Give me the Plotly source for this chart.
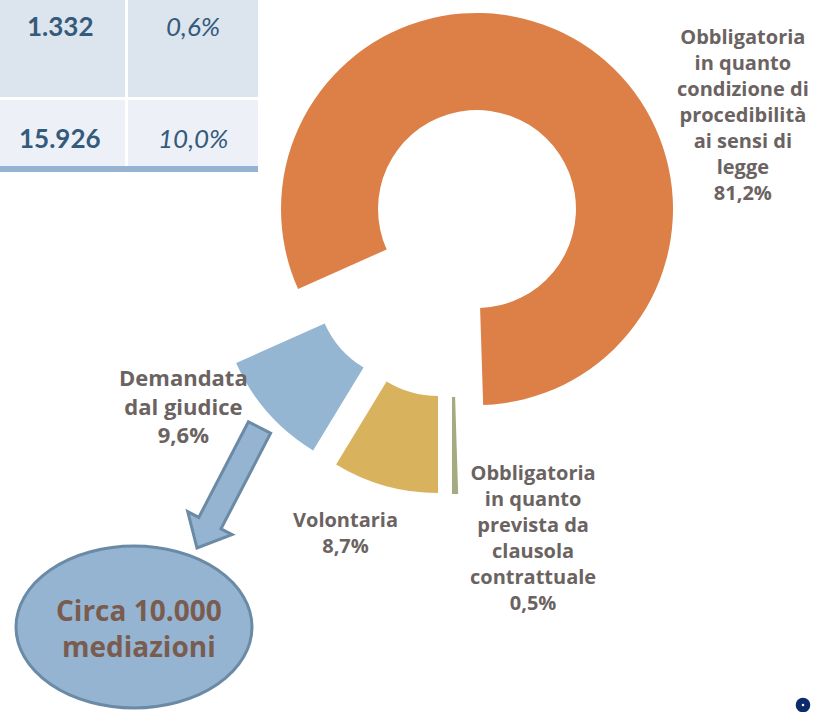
import math
import plotly.graph_objects as go

# ---------------- data ----------------
categories = [
    "Obbligatoria in quanto condizione di procedibilità ai sensi di legge",
    "Obbligatoria in quanto prevista da clausola contrattuale",
    "Volontaria",
    "Demandata dal giudice",
]
label_text = [
    "Obbligatoria<br>in quanto<br>condizione di<br>procedibilità<br>ai sensi di<br>legge",
    "Obbligatoria<br>in quanto<br>prevista da<br>clausola<br>contrattuale",
    "Volontaria",
    "Demandata<br>dal giudice",
]
shares = [81.2, 0.5, 8.7, 9.6]

table_counts = ["1.332", "15.926"]
table_shares = ["0,6%", "10,0%"]
callout_text = "Circa 10.000<br>mediazioni"

# ---------------- style / layout ----------------
W, H = 815, 712
colors = ["#DD8047", "#A5AB81", "#D8B25C", "#94B6D2"]
label_color = "#6B6361"
LABEL_FONT = "'Open Sans', Lato, sans-serif"
R = 196
HOLE = 0.505
# exploded position (pixel centre) of each slice
slice_centres = [(477, 209), (452, 298), (438, 297), (415, 283)]
label_pos = [(743, 114), (533, 537), (345, 532), (183, 405)]
label_size = [20, 20, 20, 22]


def px(x):
    return x / W


def py(y):
    return 1 - y / H


total = sum(shares)
# the "Volontaria" slice starts straight down (180 deg)
rotation = 180 - 360 * (shares[0] + shares[1]) / total

fig = go.Figure()
for i, (cx, cy) in enumerate(slice_centres):
    cols = [colors[j] if j == i else "rgba(0,0,0,0)" for j in range(len(shares))]
    fig.add_trace(go.Pie(
        labels=categories,
        values=shares,
        sort=False,
        direction="clockwise",
        rotation=rotation,
        hole=HOLE,
        marker=dict(colors=cols, line=dict(width=0)),
        textinfo="none",
        hovertemplate="%{label}: %{value:.1f}%<extra></extra>",
        showlegend=False,
        domain=dict(x=[px(cx - R), px(cx + R)], y=[py(cy + R), py(cy - R)]),
    ))

annotations = []
for i, (lx, ly) in enumerate(label_pos):
    txt = label_text[i] + "<br>" + f"{shares[i]:.1f}".replace(".", ",") + "%"
    annotations.append(dict(
        x=px(lx), y=py(ly), xref="paper", yref="paper",
        text=f"<b>{txt}</b>", showarrow=False,
        xanchor="center", yanchor="middle", align="center",
        font=dict(family=LABEL_FONT, size=label_size[i], color=label_color),
    ))

shapes = []
# partial table (top-left)
row_y = [(-5, 97), (100, 166)]
row_fill = ["#DCE4EE", "#EDF1F7"]
col_x = [(-5, 125), (128, 258)]
text_y = [26, 138]
for r, (y0, y1) in enumerate(row_y):
    for c, (x0, x1) in enumerate(col_x):
        shapes.append(dict(type="rect", xref="paper", yref="paper",
                           x0=px(x0), x1=px(x1), y0=py(y1), y1=py(y0),
                           fillcolor=row_fill[r], line=dict(width=0), layer="below"))
    annotations.append(dict(x=px(60), y=py(text_y[r]), xref="paper", yref="paper",
                            text=f"<b>{table_counts[r]}</b>", showarrow=False,
                            xanchor="center", yanchor="middle",
                            font=dict(family="Lato, sans-serif", size=26, color="#345A7C")))
    annotations.append(dict(x=px(193), y=py(text_y[r]), xref="paper", yref="paper",
                            text=f"<i>{table_shares[r]}</i>", showarrow=False,
                            xanchor="center", yanchor="middle",
                            font=dict(family="Lato, sans-serif", size=26, color="#345A7C")))
shapes.append(dict(type="rect", xref="paper", yref="paper",
                   x0=px(-5), x1=px(258), y0=py(172), y1=py(166),
                   fillcolor="#95B4D3", line=dict(width=0), layer="below"))

# block arrow from the "Demandata" slice to the callout
T = (259.5, 427.5)
P = (197.0, 548.0)
L = math.hypot(P[0] - T[0], P[1] - T[1])
u = ((P[0] - T[0]) / L, (P[1] - T[1]) / L)
n = (-u[1], u[0]) if (-u[1]) > 0 else (u[1], -u[0])
w, Wh, hl = 12.5, 25.0, 28.0
B = (P[0] - u[0] * hl, P[1] - u[1] * hl)
pts = [
    (T[0] - n[0] * w, T[1] - n[1] * w),
    (T[0] + n[0] * w, T[1] + n[1] * w),
    (B[0] + n[0] * w, B[1] + n[1] * w),
    (B[0] + n[0] * Wh, B[1] + n[1] * Wh),
    P,
    (B[0] - n[0] * Wh, B[1] - n[1] * Wh),
    (B[0] - n[0] * w, B[1] - n[1] * w),
]
path = "M " + " L ".join(f"{px(x):.5f},{py(y):.5f}" for x, y in pts) + " Z"

# callout ellipse
shapes.append(dict(type="circle", xref="paper", yref="paper",
                   x0=px(16), x1=px(252), y0=py(708), y1=py(546),
                   fillcolor="#94B4D2", line=dict(color="#6A8AA5", width=3)))
shapes.append(dict(type="path", xref="paper", yref="paper", path=path,
                   fillcolor="#94B4D2", line=dict(color="#6A8AA5", width=3)))
annotations.append(dict(x=px(139), y=py(628), xref="paper", yref="paper",
                        text=f"<b>{callout_text}</b>", showarrow=False,
                        xanchor="center", yanchor="middle", align="center",
                        font=dict(family=LABEL_FONT, size=28, color="#7A5C4F")))

# small logo mark bottom-right
shapes.append(dict(type="circle", xref="paper", yref="paper",
                   x0=px(798.7), x1=px(807.3), y0=py(709.3), y1=py(700.7),
                   fillcolor="white", line=dict(color="#0D2B6B", width=6)))

fig.update_layout(
    width=W, height=H,
    margin=dict(l=0, r=0, t=0, b=0),
    paper_bgcolor="white", plot_bgcolor="white",
    shapes=shapes, annotations=annotations,
    showlegend=False,
)

fig.write_html(
    "out.html",
    config={"displayModeBar": False},
    post_script="document.body.style.margin='0';document.body.style.overflow='hidden';",
)
